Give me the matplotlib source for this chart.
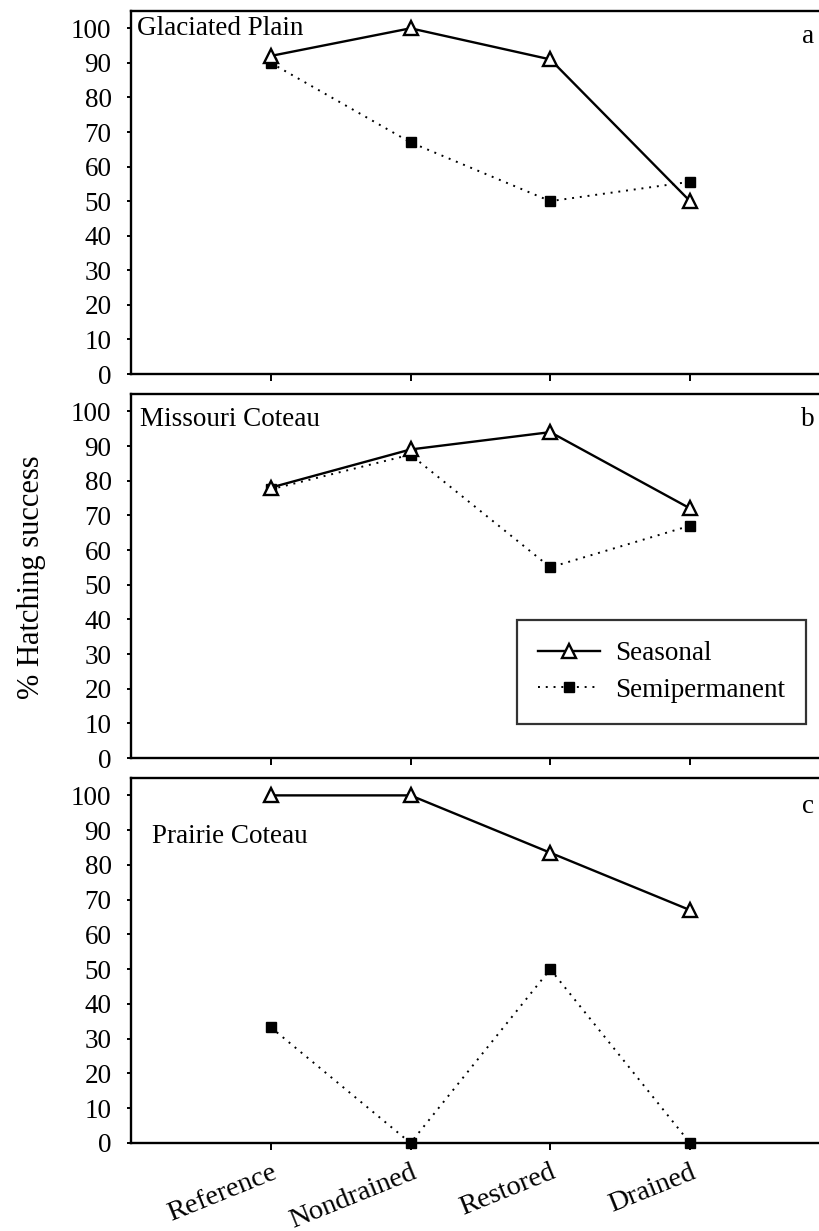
import matplotlib
matplotlib.use("Agg")
import matplotlib.pyplot as plt
from matplotlib.lines import Line2D

plt.rcParams['font.family'] = ['Liberation Serif', 'DejaVu Serif']

categories = ["Reference", "Nondrained", "Restored", "Drained"]
panel_titles = ["Glaciated Plain", "Missouri Coteau", "Prairie Coteau"]
panel_letters = ["a", "b", "c"]

seasonal_a = [92, 100, 91, 50]
semiperm_a = [90, 67, 50, 55.6]
seasonal_b = [78, 89, 94, 72]
semiperm_b = [77.5, 87.5, 55, 67]
seasonal_c = [100, 100, 83.5, 67]
semiperm_c = [33.3, 0, 50, 0]

seasonal = [seasonal_a, seasonal_b, seasonal_c]
semiperm = [semiperm_a, semiperm_b, semiperm_c]
yticks = list(range(0, 101, 10))

FS = 19.5

fig = plt.figure(figsize=(8.2, 12.31), dpi=100)
left = 131 / 820
width = 1 - left
tops = [11, 394, 778]
bottoms = [374, 758, 1143]
H = 1231
xs = list(range(1, len(categories) + 1))

axes = []
for i in range(3):
    b = 1 - bottoms[i] / H
    t = 1 - tops[i] / H
    ax = fig.add_axes([left, b, width, t - b])
    axes.append(ax)
    ax.plot(xs, seasonal[i], color='black', lw=1.7, marker='^', markersize=10,
            markerfacecolor='white', markeredgecolor='black', markeredgewidth=1.7,
            zorder=3, clip_on=False)
    ax.plot(xs, semiperm[i], color='black', lw=1.4, linestyle=(0, (1, 3.0)),
            marker='s', markersize=7.5, markerfacecolor='black', markeredgecolor='black',
            zorder=2, clip_on=False)
    ax.set_ylim(0, 105)
    ax.set_xlim(0.0, 4.93)
    ax.set_yticks(yticks)
    ax.set_xticks(xs)
    ax.spines['right'].set_visible(False)
    for s in ['left', 'top', 'bottom']:
        ax.spines[s].set_linewidth(1.7)
    ax.tick_params(axis='y', direction='out', length=3, width=1.4, labelsize=FS, pad=11)
    ax.tick_params(axis='x', direction='out', length=5, width=1.4, pad=7)
    if i < 2:
        ax.set_xticklabels([])
    else:
        ax.set_xticklabels(categories, rotation=22, fontsize=20.5, ha='right',
                           rotation_mode='anchor')
    ax.text(0.992, 0.965 if i != 2 else 0.955, panel_letters[i], transform=ax.transAxes,
            ha='right', va='top', fontsize=FS)

axes[0].text(0.009, 0.985, panel_titles[0], transform=axes[0].transAxes,
             ha='left', va='top', fontsize=FS)
axes[1].text(0.013, 0.965, panel_titles[1], transform=axes[1].transAxes,
             ha='left', va='top', fontsize=FS)
axes[2].text(0.03, 0.875, panel_titles[2], transform=axes[2].transAxes,
             ha='left', va='top', fontsize=FS)

handles = [
    Line2D([], [], color='black', lw=1.7, marker='^', markersize=10,
           markerfacecolor='white', markeredgecolor='black', markeredgewidth=1.7),
    Line2D([], [], color='black', lw=1.4, linestyle=(0, (1, 3.0)), marker='s',
           markersize=7.5, markerfacecolor='black'),
]
leg = axes[1].legend(handles, ["Seasonal", "Semipermanent"], loc='upper left',
                     bbox_to_anchor=(0.56, 0.379), fontsize=FS, frameon=True,
                     fancybox=False, edgecolor='black', handlelength=2.3,
                     borderpad=0.78, labelspacing=0.42, handletextpad=0.55,
                     borderaxespad=0)
leg.get_frame().set_linewidth(1.6)

fig.text(32 / 820, 1 - 577 / H, "% Hatching success", rotation=90,
         ha='center', va='center', fontsize=22)

fig.savefig("out.png", dpi=100)
